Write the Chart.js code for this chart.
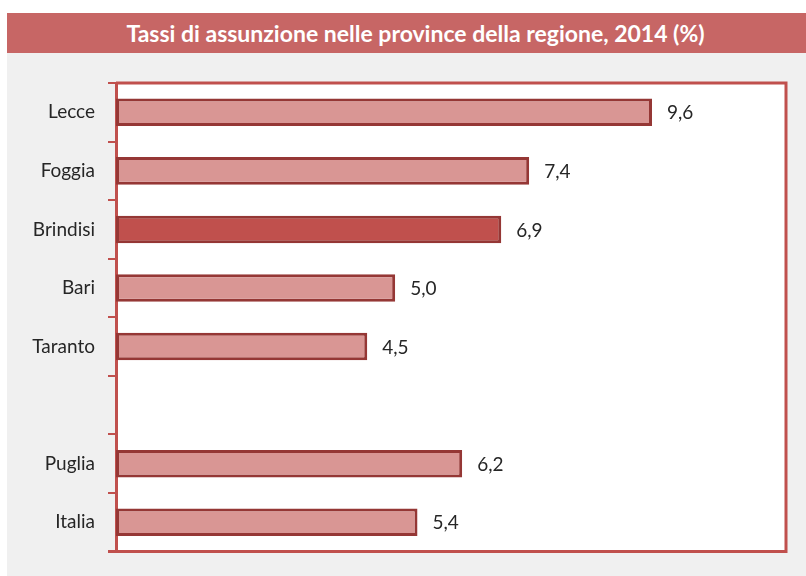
<!DOCTYPE html>
<html>
<head>
<meta charset="utf-8">
<script src="https://cdn.jsdelivr.net/npm/chart.js@4"></script>
<style>
  body { margin: 0; background: #ffffff; width: 806px; height: 576px; overflow: hidden; position: relative; font-family: Lato, sans-serif; }
  .title-bar {
    position: absolute; left: 7px; top: 13px; width: 799px; height: 40px;
    background: #c76665; color: #ffffff; font-weight: bold; font-size: 23px;
    line-height: 40px; text-align: center; text-indent: 18px;
  }
  .panel { position: absolute; left: 7px; top: 53px; width: 799px; height: 523px; background: #f0f0f0; }
  #chart { position: absolute; left: 0; top: 0; }
</style>
</head>
<body>
<div class="title-bar">Tassi di assunzione nelle province della regione, 2014 (%)</div>
<div class="panel"></div>
<canvas id="chart" width="806" height="576"></canvas>
<script>
// Province hiring rates, 2014 (%) - blank row separates regional / national totals
const categories = ['Lecce', 'Foggia', 'Brindisi', 'Bari', 'Taranto', '', 'Puglia', 'Italia'];
const rates = [9.6, 7.4, 6.9, 5.0, 4.5, null, 6.2, 5.4];
const highlighted = ['Brindisi'];
const xMax = 12;

const lightFill = '#d99694';
const darkFill = '#c0504d';
const barBorder = '#953735';
const frameColor = '#c0504d';
const textColor = '#262626';

// white plot area + red frame on top / right / bottom
const plotFrame = {
  id: 'plotFrame',
  beforeDraw(chart) {
    const { ctx, chartArea: a } = chart;
    ctx.save();
    ctx.fillStyle = '#ffffff';
    ctx.fillRect(a.left, a.top, a.right - a.left, a.bottom - a.top);
    ctx.restore();
  },
  afterDraw(chart) {
    const { ctx, chartArea: a } = chart;
    ctx.save();
    ctx.strokeStyle = frameColor;
    ctx.lineWidth = 3;
    ctx.beginPath();
    ctx.moveTo(a.left, a.top);
    ctx.lineTo(a.right, a.top);
    ctx.lineTo(a.right, a.bottom);
    ctx.lineTo(a.left - 8, a.bottom);
    ctx.stroke();
    ctx.restore();
  }
};

// value labels with italian decimal comma
const valueLabels = {
  id: 'valueLabels',
  afterDatasetsDraw(chart) {
    const { ctx } = chart;
    const meta = chart.getDatasetMeta(0);
    ctx.save();
    ctx.font = '19px Lato, sans-serif';
    ctx.fillStyle = textColor;
    ctx.textBaseline = 'middle';
    meta.data.forEach((bar, i) => {
      const v = rates[i];
      if (v === null) return;
      ctx.fillText(v.toFixed(1).replace('.', ','), bar.x + 15, bar.y + 1);
    });
    ctx.restore();
  }
};

new Chart(document.getElementById('chart'), {
  type: 'bar',
  data: {
    labels: categories,
    datasets: [{
      data: rates,
      backgroundColor: categories.map(c => highlighted.includes(c) ? darkFill : lightFill),
      borderColor: barBorder,
      borderWidth: 3,
      borderSkipped: false,
      categoryPercentage: 1,
      barPercentage: 0.47
    }]
  },
  options: {
    indexAxis: 'y',
    responsive: false,
    animation: false,
    layout: { padding: { top: 83, bottom: 23, right: 20, left: 0 } },
    plugins: {
      legend: { display: false },
      tooltip: { enabled: false }
    },
    scales: {
      x: {
        display: false,
        min: 0,
        max: xMax
      },
      y: {
        afterFit(scale) { scale.width = 116; },
        border: { color: frameColor, width: 3 },
        grid: {
          offset: true,
          drawOnChartArea: false,
          color: frameColor,
          lineWidth: 2,
          tickLength: 8
        },
        ticks: {
          padding: 13,
          color: textColor,
          font: { family: 'Lato, sans-serif', size: 19 }
        }
      }
    }
  },
  plugins: [plotFrame, valueLabels]
});
</script>
</body>
</html>
